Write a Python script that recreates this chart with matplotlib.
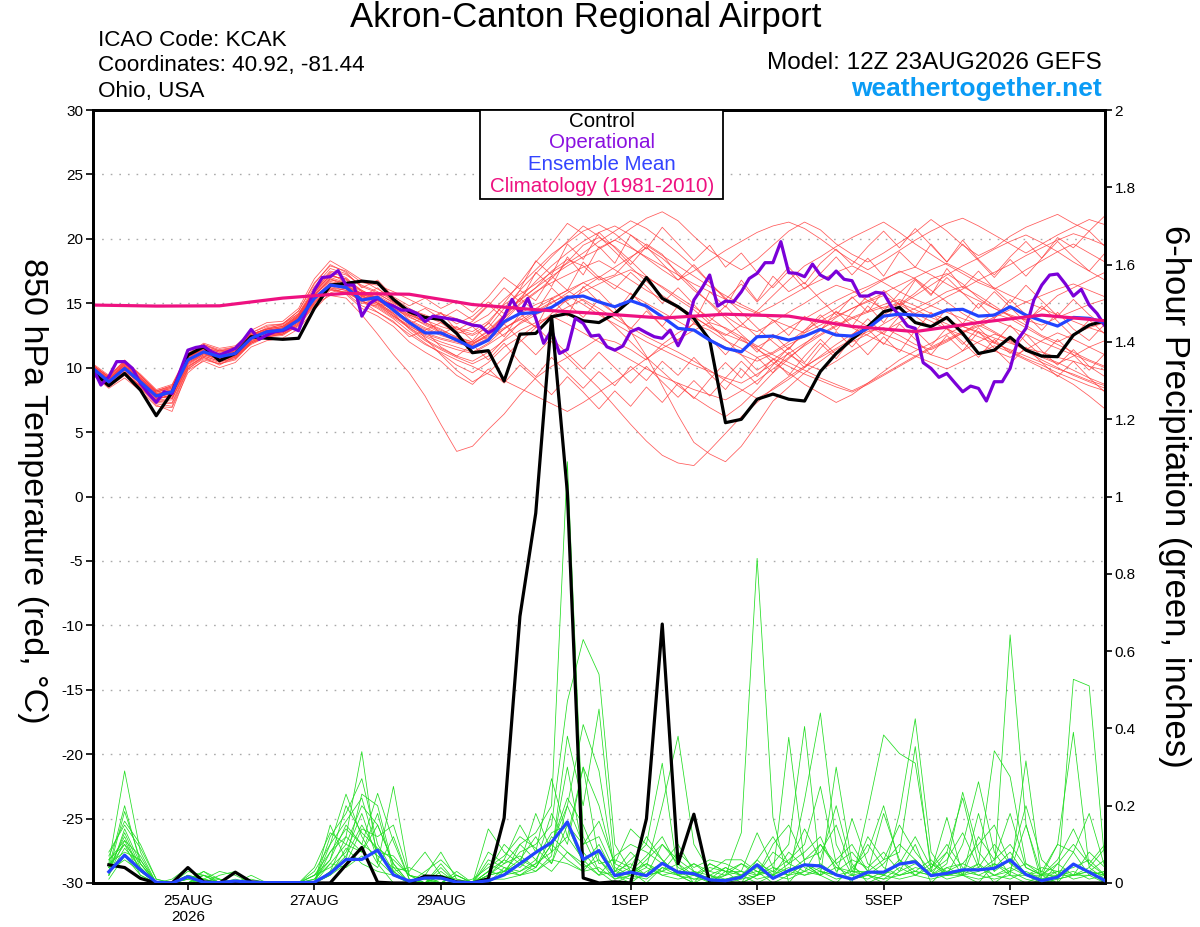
import numpy as np
import matplotlib
matplotlib.use("Agg")
import matplotlib.pyplot as plt
from matplotlib.patches import Rectangle

plt.rcParams['font.family'] = ['Liberation Sans', 'DejaVu Sans']

# ---------------- data (6-hourly steps from 12Z 23AUG2026) ----------------
tick_steps = [6, 14, 22, 34, 42, 50, 58]
tick_labels = ['25AUG\n2026', '27AUG', '29AUG', '1SEP', '3SEP', '5SEP', '7SEP']

control_temp = [9.68, 8.6, 9.55, 8.26, 6.27, 8.08, 10.98, 11.62, 10.54, 11.1, 12.4, 12.28, 12.2,
                12.28, 14.6, 16.41, 16.54, 16.72, 16.59, 15.3, 14.34, 13.9, 13.75, 12.66, 11.16,
                11.32, 8.96, 12.6, 12.66, 13.95, 14.2, 13.64, 13.5, 14.2, 15.25, 17.0, 15.38,
                14.73, 13.83, 12.14, 5.73, 5.99, 7.55, 7.95, 7.55, 7.41, 9.7, 11.1, 12.2,
                13.18, 14.34, 14.68, 13.5, 13.18, 13.9, 12.66, 11.1, 11.36, 12.36, 11.36, 10.9,
                10.85, 12.53, 13.3, 13.64]

mean_temp = [9.94, 8.9, 9.94, 8.9, 7.8, 8.13, 10.6, 11.23, 10.85, 11.1, 12.28, 12.79, 12.92,
             13.7, 15.38, 16.41, 16.23, 15.25, 15.46, 14.47, 13.5, 12.7, 12.7, 12.14, 11.55,
             12.14, 13.57, 14.2, 14.27, 14.68, 15.46, 15.56, 15.1, 14.73, 15.2, 14.78, 13.95,
             13.05, 12.92, 12.14, 11.5, 11.23, 12.4, 12.45, 12.14, 12.45, 12.97, 12.53, 12.45,
             13.05, 14.0, 14.16, 14.08, 14.0, 14.47, 14.53, 14.0, 14.08, 14.73, 14.08, 13.64,
             13.23, 13.9, 13.83, 13.5]

# operational run, 3-hourly
oper_temp = [9.94, 8.65, 9.3, 10.47, 10.47, 9.94, 8.78, 8.0, 7.31, 8.13, 8.0, 9.7, 11.36, 11.57,
             11.67, 11.23, 10.98, 11.23, 11.5, 12.14, 12.97, 12.2, 12.53, 12.79, 12.87, 13.13,
             12.87, 14.47, 16.02, 17.0, 17.06, 17.53, 16.41, 16.41, 14.0, 14.99, 15.38, 14.99,
             14.78, 14.47, 14.47, 14.2, 13.57, 14.0, 13.9, 13.8, 13.7, 13.5, 13.3, 13.23, 12.7,
             13.05, 13.95, 15.3, 14.2, 15.38, 13.83, 11.89, 12.92, 11.1, 11.42, 13.83, 13.44,
             12.45, 12.53, 11.62, 11.36, 11.67, 12.79, 13.05, 12.71, 12.4, 12.28, 12.92, 11.7,
             12.92, 15.25, 16.15, 17.19, 14.78, 15.17, 15.1, 15.89, 16.92, 17.32, 18.15, 18.15,
             19.78, 17.37, 17.32, 17.06, 18.04, 17.19, 16.86, 17.5, 16.86, 16.75, 15.56, 15.56,
             15.85, 15.77, 14.73, 14.08, 13.23, 13.05, 10.39, 9.94, 9.25, 9.55, 8.83, 8.13, 8.57,
             8.39, 7.41, 8.91, 8.91, 9.94, 12.2, 13.05, 15.25, 16.41, 17.19, 17.27, 16.49, 15.56,
             16.08, 14.86, 14.2, 13.23]

# climatology, daily
clim_temp = [14.86, 14.78, 14.8, 15.4, 15.77, 15.7, 14.9, 14.5, 14.2, 13.85, 14.15, 14.0,
             13.2, 12.8, 13.5, 14.08, 13.64]

member_temps = [
    [9.6, 9.0, 10.3, 9.2, 8.0, 7.6, 10.2, 11.0, 10.7, 11.4, 12.6, 13.0, 13.4, 14.2, 16.0, 17.4, 17.0, 15.9, 15.2, 14.6, 13.9, 13.4, 12.8, 12.2, 11.8, 12.6, 14.1, 15.3, 16.2, 17.5, 18.4, 17.9, 16.8, 17.2, 18.5, 19.6, 18.8, 17.2, 16.0, 15.1, 14.0, 13.2, 12.8, 13.5, 14.3, 15.0, 15.8, 16.4, 16.0, 15.2, 14.6, 14.9, 15.8, 16.9, 17.3, 16.5, 15.4, 14.6, 14.0, 13.7, 14.5, 15.6, 16.2, 16.8, 17.4],
    [9.8, 8.7, 9.6, 8.5, 7.2, 7.0, 9.9, 10.8, 10.2, 10.9, 11.8, 12.4, 12.6, 13.3, 14.9, 15.6, 15.4, 14.1, 12.6, 11.0, 9.6, 7.8, 5.6, 3.5, 3.9, 5.2, 6.4, 7.9, 9.2, 10.1, 10.8, 11.5, 12.3, 12.0, 11.4, 10.6, 11.8, 12.7, 13.4, 12.9, 12.1, 11.5, 10.8, 11.2, 12.0, 12.9, 13.6, 14.3, 13.9, 13.2, 12.6, 12.1, 11.5, 11.0, 10.6, 11.3, 12.0, 12.6, 12.2, 11.4, 10.8, 10.3, 10.9, 11.6, 12.1],
    [10.1, 9.3, 10.6, 9.4, 8.2, 8.6, 11.0, 11.8, 11.3, 11.6, 12.9, 13.5, 13.6, 14.6, 16.9, 18.3, 17.6, 16.8, 16.1, 15.4, 14.6, 14.0, 13.5, 13.0, 12.6, 13.4, 15.0, 16.6, 18.2, 19.6, 21.2, 20.4, 19.3, 19.9, 20.8, 21.6, 22.1, 21.4, 20.2, 19.1, 18.3, 17.6, 18.4, 19.5, 20.6, 21.3, 20.7, 19.6, 18.8, 18.2, 18.9, 19.7, 20.5, 21.5, 20.6, 19.5, 18.7, 19.3, 20.2, 20.9, 21.4, 21.9, 21.2, 20.6, 21.8],
    [9.7, 8.8, 9.8, 8.7, 7.5, 7.9, 10.4, 11.1, 10.6, 10.9, 12.0, 12.6, 12.8, 13.6, 15.3, 16.4, 16.1, 15.0, 14.8, 14.0, 13.3, 12.5, 12.0, 11.6, 11.2, 11.9, 13.0, 13.8, 13.2, 12.0, 10.8, 9.6, 8.4, 7.0, 5.6, 4.3, 3.2, 2.6, 2.4, 3.6, 4.9, 6.2, 7.3, 8.4, 9.3, 10.1, 10.8, 11.5, 12.2, 12.8, 13.1, 12.5, 11.8, 11.4, 12.0, 12.7, 13.5, 14.2, 13.8, 13.1, 12.4, 11.8, 11.2, 10.6, 10.1],
    [10.0, 9.1, 10.2, 9.0, 7.9, 8.3, 10.9, 11.4, 11.0, 11.3, 12.4, 12.9, 13.1, 13.9, 15.8, 17.2, 16.8, 15.6, 15.1, 14.2, 13.0, 12.1, 11.4, 10.8, 10.3, 10.9, 12.2, 13.5, 14.3, 15.0, 15.8, 16.6, 15.9, 14.6, 12.8, 10.9, 8.6, 6.3, 4.2, 3.3, 2.7, 3.9, 5.6, 7.4, 8.5, 9.6, 10.5, 11.4, 12.0, 12.6, 13.4, 14.1, 14.6, 15.2, 15.9, 16.3, 15.6, 14.8, 14.0, 13.3, 12.5, 12.0, 12.6, 13.1, 13.5],
    [9.5, 8.5, 9.4, 8.4, 7.1, 6.6, 9.8, 10.5, 10.0, 10.4, 11.6, 12.1, 12.3, 13.0, 14.5, 15.8, 16.2, 15.7, 15.3, 14.8, 14.1, 13.5, 13.0, 12.3, 11.7, 12.3, 13.6, 14.9, 15.8, 16.9, 18.2, 19.5, 20.1, 19.4, 18.3, 17.1, 16.2, 15.3, 14.5, 13.4, 12.2, 11.0, 9.8, 10.6, 11.5, 12.7, 13.9, 14.6, 15.4, 16.1, 16.8, 17.5, 16.9, 16.0, 15.1, 14.2, 13.5, 12.8, 12.1, 11.4, 10.9, 10.4, 9.8, 9.2, 8.7],
    [10.2, 9.2, 10.4, 9.3, 8.1, 8.4, 10.7, 11.5, 11.3, 11.5, 12.5, 13.1, 13.3, 14.2, 16.3, 17.7, 17.3, 16.3, 15.8, 15.0, 14.4, 13.7, 13.2, 12.8, 12.5, 13.1, 14.6, 16.0, 17.3, 18.6, 19.8, 21.0, 20.2, 19.0, 17.8, 16.7, 15.6, 14.8, 14.0, 13.1, 12.5, 13.3, 14.4, 15.6, 16.8, 17.9, 18.6, 19.4, 20.1, 20.7, 21.3, 20.5, 19.6, 18.8, 18.0, 17.3, 16.6, 16.1, 16.8, 17.6, 18.3, 19.0, 19.6, 18.9, 18.2],
    [9.9, 9.0, 10.0, 9.1, 8.0, 8.2, 10.5, 11.3, 10.8, 11.0, 12.2, 12.7, 12.9, 13.8, 15.5, 16.6, 16.3, 15.4, 15.6, 14.9, 13.7, 12.3, 11.0, 9.8, 8.9, 9.6, 10.8, 12.0, 13.1, 14.2, 15.3, 16.2, 17.0, 17.8, 18.6, 19.3, 18.5, 17.4, 16.2, 15.0, 13.8, 12.6, 11.5, 10.4, 9.6, 8.7, 8.0, 7.3, 7.9, 8.8, 9.7, 10.6, 11.3, 11.9, 12.6, 13.2, 12.7, 12.0, 11.3, 10.7, 10.2, 9.6, 9.1, 8.6, 8.2],
    [9.4, 8.4, 9.2, 8.2, 7.0, 6.9, 9.6, 10.6, 10.3, 10.6, 11.9, 12.5, 12.6, 13.2, 14.8, 16.0, 15.9, 15.2, 14.6, 13.8, 12.8, 11.9, 11.1, 10.2, 9.6, 10.4, 11.6, 12.4, 13.3, 14.0, 14.7, 15.3, 14.6, 13.8, 13.1, 12.4, 11.8, 11.2, 10.5, 9.8, 9.0, 8.3, 7.6, 8.3, 9.1, 10.0, 10.9, 11.8, 12.6, 13.3, 14.1, 14.8, 15.6, 16.4, 17.2, 17.9, 18.5, 19.2, 19.8, 20.3, 19.7, 19.0, 18.2, 17.5, 16.8],
    [10.0, 9.0, 10.1, 8.9, 7.7, 8.0, 10.6, 11.2, 10.9, 11.2, 12.3, 12.8, 13.0, 13.9, 15.6, 16.8, 16.6, 15.9, 15.7, 15.1, 14.5, 14.1, 13.6, 13.1, 12.8, 13.6, 14.9, 15.7, 16.5, 17.4, 18.1, 18.9, 19.8, 20.6, 21.4, 20.8, 19.9, 18.9, 17.8, 16.6, 15.4, 14.3, 13.1, 12.0, 11.0, 10.3, 9.8, 10.5, 11.3, 12.0, 12.8, 13.5, 14.2, 14.8, 15.5, 16.1, 16.8, 17.4, 18.0, 18.7, 19.3, 19.9, 20.4, 20.0, 19.5],
    [9.8, 8.8, 9.7, 8.8, 7.6, 7.8, 10.3, 11.0, 10.6, 10.8, 12.1, 12.6, 12.7, 13.5, 15.1, 16.2, 16.0, 15.1, 14.9, 14.2, 13.4, 12.7, 12.3, 12.0, 11.8, 12.5, 13.4, 14.2, 14.9, 15.4, 16.0, 15.2, 14.3, 13.2, 12.0, 10.8, 9.7, 8.6, 7.7, 6.9, 6.2, 7.1, 8.3, 9.6, 10.7, 11.8, 12.9, 13.9, 14.6, 15.1, 15.6, 14.9, 14.2, 13.6, 13.0, 12.5, 11.9, 11.3, 10.8, 11.4, 12.1, 12.7, 12.2, 11.6, 11.0],
    [10.3, 9.4, 10.5, 9.5, 8.3, 8.7, 11.1, 11.9, 11.5, 11.7, 12.7, 13.2, 13.4, 14.4, 16.6, 17.9, 17.5, 16.6, 16.4, 15.9, 15.3, 14.7, 14.2, 13.8, 13.4, 14.1, 15.3, 16.4, 17.6, 18.8, 19.7, 20.6, 21.1, 20.4, 19.4, 18.5, 17.6, 16.8, 17.5, 18.3, 19.1, 19.8, 20.5, 21.0, 21.3, 20.8, 20.0, 19.1, 18.3, 17.6, 18.3, 19.1, 19.9, 20.6, 21.2, 21.6, 21.0, 20.3, 19.6, 18.9, 19.6, 20.3, 20.9, 21.5, 21.1],
    [9.6, 8.6, 9.5, 8.6, 7.4, 7.3, 10.0, 10.9, 10.5, 10.7, 11.9, 12.4, 12.5, 13.3, 15.0, 16.1, 15.8, 14.8, 14.3, 13.5, 12.6, 11.8, 11.2, 10.6, 10.1, 9.5, 9.0, 8.4, 7.8, 7.2, 6.6, 7.3, 8.1, 8.9, 9.8, 10.7, 11.5, 12.2, 12.9, 13.5, 13.1, 12.4, 11.7, 11.0, 10.4, 9.8, 9.2, 8.7, 8.2, 8.8, 9.5, 10.2, 10.9, 11.6, 12.2, 12.8, 13.3, 12.7, 12.0, 11.3, 10.6, 10.0, 9.4, 8.9, 8.4],
    [10.1, 9.1, 10.3, 9.2, 8.1, 8.5, 10.8, 11.6, 11.2, 11.4, 12.6, 13.0, 13.2, 14.0, 15.9, 17.1, 16.9, 16.0, 15.3, 14.5, 13.6, 13.0, 12.5, 12.1, 11.9, 12.6, 13.8, 15.0, 15.9, 16.6, 17.2, 17.8, 18.3, 17.6, 16.8, 16.0, 15.3, 14.6, 13.9, 13.2, 12.6, 12.1, 11.6, 12.3, 13.1, 13.8, 14.5, 15.2, 15.8, 16.3, 16.9, 17.4, 17.8, 17.2, 16.5, 15.8, 15.2, 14.6, 14.1, 13.7, 13.3, 13.9, 14.4, 14.9, 15.3],
    [9.7, 8.7, 9.9, 8.8, 7.7, 7.7, 10.3, 11.1, 10.7, 11.0, 12.2, 12.7, 12.9, 13.7, 15.4, 16.5, 16.4, 15.5, 15.2, 14.4, 13.7, 13.1, 12.6, 12.2, 11.9, 12.4, 13.1, 13.7, 14.4, 15.1, 15.6, 14.9, 14.1, 13.4, 12.7, 12.0, 11.4, 10.8, 10.2, 9.7, 9.2, 8.8, 9.5, 10.3, 11.1, 11.9, 12.6, 13.3, 13.9, 14.4, 14.9, 15.3, 14.8, 14.2, 13.7, 13.2, 12.8, 12.3, 11.9, 11.5, 11.2, 10.8, 10.5, 10.1, 9.8],
    [9.9, 8.9, 10.0, 9.0, 7.9, 8.1, 10.6, 11.3, 10.9, 11.2, 12.4, 12.9, 13.1, 14.0, 15.7, 16.9, 16.5, 15.6, 15.0, 14.1, 13.1, 12.4, 11.8, 11.4, 11.1, 11.8, 12.6, 13.4, 14.1, 14.7, 15.2, 15.9, 16.5, 17.1, 17.6, 17.0, 16.3, 15.5, 14.7, 13.9, 13.0, 12.2, 11.4, 10.7, 10.1, 9.5, 9.0, 8.5, 8.1, 8.7, 9.4, 10.1, 10.8, 11.5, 12.1, 12.7, 13.2, 13.7, 13.2, 12.6, 12.0, 11.5, 11.0, 10.5, 10.0],
    [10.2, 9.3, 10.4, 9.4, 8.2, 8.5, 10.9, 11.7, 11.3, 11.4, 12.6, 13.0, 13.2, 14.1, 16.1, 17.5, 17.2, 16.4, 15.9, 15.2, 14.3, 13.5, 12.9, 12.4, 12.0, 12.9, 14.1, 15.2, 16.2, 17.1, 17.9, 18.6, 19.2, 19.9, 19.3, 18.6, 17.9, 17.2, 16.5, 15.9, 15.3, 14.7, 14.2, 14.8, 15.5, 16.2, 16.8, 17.4, 17.9, 17.3, 16.6, 15.9, 15.3, 14.8, 14.3, 13.8, 13.4, 13.9, 14.5, 15.1, 15.6, 16.1, 16.5, 16.0, 15.5],
    [9.5, 8.6, 9.6, 8.6, 7.4, 7.5, 10.1, 10.8, 10.4, 10.8, 12.0, 12.5, 12.7, 13.4, 15.2, 16.3, 16.0, 15.2, 14.7, 13.9, 13.1, 12.2, 11.5, 10.9, 10.5, 11.2, 12.1, 12.9, 13.5, 14.0, 13.4, 12.7, 12.0, 11.3, 10.6, 9.9, 9.3, 8.8, 8.3, 7.9, 7.5, 8.2, 9.0, 9.9, 10.8, 11.7, 12.5, 13.2, 13.8, 14.3, 14.7, 15.0, 14.5, 13.9, 13.4, 12.9, 12.4, 11.9, 11.4, 10.9, 10.4, 9.9, 9.5, 9.0, 8.6],
    [10.0, 9.1, 10.1, 9.1, 7.9, 8.2, 10.7, 11.4, 11.0, 11.3, 12.4, 12.9, 13.0, 13.9, 15.7, 16.7, 16.4, 15.6, 15.5, 14.8, 14.0, 13.3, 12.7, 12.3, 12.0, 12.8, 14.0, 15.4, 16.7, 17.9, 18.9, 19.8, 20.5, 21.0, 20.3, 19.5, 18.7, 17.9, 17.1, 16.3, 15.6, 14.9, 14.3, 13.7, 13.2, 12.7, 13.3, 14.0, 14.6, 15.2, 15.8, 16.4, 17.0, 17.6, 18.1, 17.5, 16.8, 16.2, 15.6, 15.1, 14.6, 14.1, 13.6, 13.1, 12.7],
    [9.8, 8.8, 9.8, 8.8, 7.6, 7.9, 10.4, 11.1, 10.7, 11.0, 12.1, 12.6, 12.8, 13.6, 15.3, 16.4, 16.2, 15.3, 14.9, 14.0, 13.2, 12.6, 12.2, 11.9, 11.6, 12.2, 13.0, 13.9, 14.6, 15.3, 16.0, 16.6, 17.1, 16.4, 15.7, 15.0, 14.3, 13.6, 12.9, 12.2, 11.6, 11.0, 10.5, 11.1, 11.8, 12.4, 13.0, 13.6, 13.1, 12.5, 11.9, 11.4, 10.9, 10.4, 9.9, 10.5, 11.1, 11.7, 11.2, 10.6, 10.0, 9.4, 8.7, 7.8, 6.8],
    [9.9, 8.9, 10.1, 9.0, 7.8, 8.0, 10.5, 11.2, 10.8, 11.1, 12.3, 12.8, 13.0, 13.8, 15.6, 16.9, 16.3, 15.8, 15.0, 14.6, 13.4, 13.9, 12.6, 13.2, 12.1, 13.5, 12.4, 14.2, 13.1, 15.4, 14.0, 16.3, 15.1, 14.2, 15.8, 14.6, 13.2, 14.8, 13.5, 15.9, 14.7, 16.8, 15.2, 17.1, 15.9, 16.6, 15.3, 14.1, 15.5, 14.3, 16.0, 14.9, 16.8, 15.6, 17.7, 16.2, 17.5, 16.1, 15.0, 16.4, 15.2, 14.0, 15.3, 14.1, 13.2],
    [10.0, 9.2, 10.2, 9.1, 8.0, 8.3, 10.8, 11.4, 11.1, 11.2, 12.5, 12.9, 13.1, 14.0, 16.0, 17.1, 16.9, 15.5, 16.2, 15.1, 14.2, 13.6, 14.3, 12.9, 13.6, 14.8, 16.2, 15.1, 17.4, 16.3, 18.6, 17.2, 19.4, 18.1, 20.3, 19.2, 20.9, 19.6, 18.3, 19.5, 17.8, 18.9, 17.4, 16.2, 17.5, 16.1, 17.3, 18.6, 17.2, 18.5, 17.1, 19.0, 17.8, 19.6, 18.2, 19.9, 18.4, 17.2, 18.6, 19.8, 18.5, 20.1, 19.3, 20.6, 19.4],
    [9.7, 8.7, 9.6, 8.6, 7.5, 7.6, 10.1, 10.9, 10.5, 10.9, 12.0, 12.5, 12.7, 13.5, 15.1, 16.2, 15.8, 15.2, 14.3, 13.6, 12.4, 12.9, 11.6, 10.9, 11.8, 10.6, 11.9, 10.4, 9.3, 10.8, 9.6, 8.4, 9.7, 8.6, 10.1, 9.0, 10.5, 9.4, 10.8, 9.5, 8.3, 9.9, 8.7, 10.2, 11.6, 10.4, 11.9, 10.7, 12.3, 11.0, 12.4, 11.2, 12.9, 11.7, 13.1, 12.0, 10.8, 12.2, 11.1, 12.6, 11.3, 10.2, 11.4, 10.1, 9.3],
    [10.1, 9.1, 10.3, 9.2, 8.1, 8.4, 10.8, 11.5, 11.2, 11.4, 12.5, 13.0, 13.2, 14.1, 16.0, 17.3, 16.6, 16.0, 15.4, 14.9, 14.1, 13.6, 14.2, 13.4, 14.0, 15.1, 14.2, 16.0, 15.2, 17.1, 16.0, 18.2, 17.0, 16.1, 17.4, 16.3, 15.0, 16.2, 14.9, 13.6, 14.8, 13.5, 12.4, 13.7, 12.5, 14.0, 12.9, 14.4, 13.2, 14.8, 13.5, 15.2, 14.0, 13.1, 14.6, 13.4, 15.0, 13.8, 15.3, 14.1, 12.9, 14.3, 13.0, 12.1, 13.4],
    [9.6, 8.6, 9.5, 8.5, 7.3, 7.2, 9.9, 10.7, 10.3, 10.7, 11.9, 12.4, 12.6, 13.4, 15.0, 16.1, 15.7, 14.6, 14.0, 13.2, 12.0, 11.2, 10.5, 9.4, 8.7, 9.9, 8.8, 10.2, 9.1, 7.9, 9.3, 8.1, 6.8, 8.2, 7.0, 8.5, 7.3, 8.8, 7.6, 9.1, 10.4, 9.2, 10.8, 9.6, 11.2, 10.0, 11.5, 12.8, 11.6, 13.0, 11.8, 13.4, 12.2, 11.0, 12.5, 11.3, 12.8, 11.5, 10.3, 11.6, 10.4, 9.3, 10.5, 9.2, 8.1],
    [10.2, 9.3, 10.5, 9.4, 8.2, 8.6, 11.0, 11.8, 11.4, 11.6, 12.7, 13.3, 13.4, 14.4, 16.5, 18.0, 17.4, 16.2, 16.8, 15.5, 14.8, 15.4, 14.6, 15.2, 14.3, 15.5, 17.0, 16.1, 18.3, 17.2, 19.6, 18.4, 20.5, 19.3, 18.0, 19.4, 18.1, 16.8, 18.0, 16.6, 15.3, 16.5, 15.1, 16.4, 17.8, 16.5, 18.1, 19.2, 18.0, 19.4, 20.6, 19.3, 20.8, 19.5, 18.2, 19.6, 18.3, 17.0, 18.4, 17.1, 18.5, 19.8, 18.6, 17.5, 18.9],
    [9.8, 8.9, 9.9, 8.9, 7.7, 8.0, 10.5, 11.2, 10.8, 11.0, 12.2, 12.7, 12.9, 13.7, 15.4, 16.5, 16.2, 15.4, 15.0, 14.3, 13.5, 12.9, 13.5, 12.6, 13.2, 12.1, 13.4, 12.2, 11.0, 12.3, 11.1, 9.9, 11.2, 10.0, 8.8, 10.1, 8.9, 7.7, 9.0, 7.8, 9.2, 10.5, 9.3, 10.7, 9.4, 10.9, 12.2, 11.0, 12.5, 13.8, 12.6, 14.0, 12.8, 14.3, 13.0, 11.8, 13.1, 11.9, 13.3, 12.0, 10.9, 12.2, 11.0, 9.8, 11.1],
    [10.0, 9.0, 10.1, 9.0, 7.8, 8.1, 10.6, 11.3, 10.9, 11.2, 12.4, 12.8, 13.0, 13.9, 15.8, 17.0, 16.6, 15.7, 15.5, 14.6, 14.0, 14.6, 13.8, 14.5, 13.7, 14.9, 13.8, 15.4, 14.3, 16.2, 15.0, 13.9, 15.3, 14.2, 13.0, 14.4, 13.2, 12.1, 13.5, 12.3, 11.0, 12.4, 11.2, 12.6, 11.4, 12.9, 14.1, 12.9, 14.3, 15.6, 14.4, 15.8, 16.9, 15.7, 17.0, 15.8, 14.6, 15.9, 14.7, 13.5, 14.8, 13.6, 12.4, 13.7, 12.6],
]

# 6-hour precipitation (inches), valid at steps 1..64
control_precip = [0.047, 0.04, 0.012, 0, 0, 0.04, 0.003, 0, 0.028, 0.003, 0, 0, 0, 0, 0, 0.047,
                  0.092, 0.002, 0, 0, 0.018, 0.016, 0.003, 0, 0.011, 0.168, 0.69, 0.957, 1.466, 1.01,
                  0.013, 0, 0.003, 0, 0.166, 0.67, 0.05, 0.178, 0, 0, 0, 0, 0, 0, 0, 0, 0, 0,
                  0, 0, 0, 0, 0, 0, 0, 0, 0, 0, 0, 0, 0, 0, 0, 0]
mean_precip = [0.029, 0.072, 0.034, 0.002, 0, 0.016, 0.002, 0.001, 0.005, 0.002, 0.001, 0.001,
               0.001, 0.002, 0.025, 0.061, 0.061, 0.085, 0.021, 0.005, 0.013, 0.013, 0.002, 0.001,
               0.006, 0.021, 0.05, 0.079, 0.105, 0.158, 0.061, 0.084, 0.019, 0.028, 0.019, 0.051,
               0.028, 0.024, 0.008, 0.006, 0.015, 0.047, 0.012, 0.032, 0.047, 0.044, 0.021, 0.01,
               0.028, 0.028, 0.049, 0.055, 0.019, 0.025, 0.034, 0.034, 0.038, 0.06, 0.022, 0.006,
               0.015, 0.049, 0.028, 0.006]

member_precips = [
    [0.05, 0.29, 0.08, 0, 0, 0.02, 0.01, 0, 0, 0, 0, 0, 0, 0, 0.08, 0.12, 0.34, 0.05, 0, 0, 0, 0.03, 0, 0, 0.02, 0.05, 0.1, 0.13, 0.2, 1.09, 0.12, 0.03, 0, 0.02, 0.06, 0.1, 0.05, 0, 0, 0.02, 0.13, 0.84, 0.17, 0, 0.05, 0.02, 0, 0.04, 0.02, 0, 0.03, 0.1, 0, 0.04, 0.02, 0, 0.05, 0.02, 0, 0.02, 0.1, 0.08, 0.02, 0],
    [0.03, 0.185, 0.06, 0, 0, 0.01, 0.03, 0, 0, 0, 0, 0, 0, 0.03, 0.1, 0.23, 0.12, 0.05, 0.25, 0.02, 0, 0, 0.02, 0, 0.05, 0.03, 0.08, 0.1, 0.15, 0.47, 0.63, 0.54, 0.1, 0.03, 0, 0.04, 0.02, 0, 0.05, 0.03, 0, 0.06, 0.02, 0.377, 0.05, 0.02, 0.3, 0.05, 0, 0.02, 0.05, 0.06, 0.02, 0.08, 0.22, 0.05, 0, 0.03, 0.15, 0.02, 0, 0.527, 0.51, 0.05],
    [0.07, 0.16, 0.1, 0.01, 0, 0, 0.02, 0.01, 0, 0, 0, 0, 0, 0, 0.15, 0.06, 0.23, 0.2, 0.04, 0.03, 0.08, 0.02, 0, 0, 0.14, 0.08, 0.05, 0.03, 0.07, 0.38, 0.2, 0.45, 0.05, 0.14, 0.1, 0.31, 0.02, 0.05, 0.02, 0, 0, 0.02, 0.05, 0.1, 0.405, 0.03, 0.02, 0.167, 0.05, 0.02, 0.18, 0.425, 0.08, 0.02, 0.02, 0.18, 0.03, 0.642, 0.153, 0, 0.02, 0.02, 0.03, 0],
    [0.02, 0.14, 0.05, 0, 0.01, 0.04, 0, 0, 0.01, 0, 0, 0, 0, 0.02, 0.06, 0.15, 0.1, 0.232, 0.107, 0.01, 0, 0.05, 0, 0, 0.03, 0.1, 0.06, 0.12, 0.05, 0.2, 0.41, 0.29, 0.03, 0.08, 0.04, 0.2, 0.38, 0.1, 0.03, 0.06, 0.06, 0.03, 0, 0.02, 0.215, 0.44, 0.1, 0.02, 0.03, 0.06, 0.08, 0.353, 0.03, 0.17, 0.02, 0.05, 0.342, 0.275, 0.05, 0.03, 0.1, 0.39, 0.04, 0.09],
    [0.04, 0.12, 0.03, 0, 0, 0, 0.02, 0, 0, 0, 0, 0, 0, 0.01, 0.05, 0.1, 0.2, 0.15, 0.05, 0, 0.02, 0.08, 0.01, 0, 0.03, 0.02, 0.1, 0.06, 0.13, 0.15, 0.05, 0.1, 0.02, 0, 0.03, 0.05, 0.1, 0.03, 0, 0.01, 0.02, 0.05, 0.03, 0.06, 0.1, 0.25, 0.05, 0, 0.187, 0.383, 0.335, 0.31, 0.05, 0.02, 0.1, 0.262, 0.08, 0.02, 0.316, 0.01, 0, 0.05, 0.03, 0.02],
    [0.06, 0.11, 0.07, 0, 0, 0, 0, 0.02, 0.03, 0, 0, 0, 0, 0, 0.12, 0.18, 0.27, 0.1, 0.03, 0.04, 0.02, 0, 0, 0, 0.02, 0.06, 0.04, 0.08, 0.1, 0.22, 0.15, 0.05, 0.06, 0.04, 0.02, 0.03, 0.05, 0.02, 0.04, 0.03, 0.03, 0.02, 0.08, 0.05, 0.03, 0.1, 0.05, 0.08, 0.03, 0.18, 0.06, 0.03, 0.02, 0.05, 0.235, 0.08, 0.03, 0.06, 0.02, 0.02, 0.05, 0.1, 0.05, 0.02],
    [0.02, 0.09, 0.04, 0, 0, 0.03, 0.02, 0, 0, 0.02, 0, 0, 0, 0.02, 0.04, 0.08, 0.18, 0.06, 0.02, 0, 0, 0, 0.02, 0, 0.02, 0.03, 0.05, 0.18, 0.08, 0.3, 0.08, 0.03, 0.02, 0.06, 0.1, 0.06, 0.02, 0, 0.02, 0, 0, 0.02, 0.04, 0.03, 0.06, 0.08, 0.15, 0.03, 0.02, 0.05, 0.1, 0.06, 0.02, 0.03, 0.05, 0.1, 0.15, 0.05, 0.02, 0, 0.05, 0.02, 0.08, 0.04],
    [0.08, 0.15, 0.09, 0.01, 0, 0, 0.01, 0.03, 0.02, 0, 0, 0, 0, 0, 0.02, 0.05, 0.14, 0.12, 0.15, 0.02, 0, 0.04, 0, 0, 0.06, 0.04, 0.03, 0.05, 0.18, 0.1, 0.3, 0.2, 0.04, 0.02, 0.05, 0.03, 0.08, 0.04, 0.06, 0.05, 0.03, 0.13, 0.04, 0.02, 0.03, 0.05, 0.02, 0.03, 0.1, 0.04, 0.02, 0.03, 0.06, 0.02, 0.03, 0.05, 0.02, 0.03, 0.05, 0.02, 0.03, 0.04, 0.06, 0.02],
    [0.01, 0.07, 0.02, 0, 0, 0.02, 0, 0, 0, 0, 0, 0, 0, 0, 0.03, 0.07, 0.15, 0.08, 0.07, 0.02, 0.01, 0, 0, 0.01, 0.04, 0.07, 0.12, 0.09, 0.05, 0.15, 0.1, 0.12, 0.03, 0.05, 0.02, 0.1, 0.06, 0.03, 0.02, 0.04, 0.02, 0, 0.02, 0.05, 0.08, 0.12, 0.03, 0.06, 0.04, 0.08, 0.03, 0.05, 0.02, 0.04, 0.05, 0.03, 0.06, 0.1, 0.04, 0.02, 0.02, 0.05, 0.03, 0.06],
    [0.04, 0.1, 0.05, 0, 0, 0, 0.03, 0.01, 0, 0, 0, 0, 0, 0.04, 0.13, 0.1, 0.08, 0.18, 0.03, 0, 0.03, 0.06, 0.02, 0, 0.08, 0.05, 0.07, 0.04, 0.12, 0.08, 0.05, 0.02, 0.07, 0.1, 0.08, 0.05, 0.03, 0.05, 0.03, 0.02, 0.05, 0.03, 0.02, 0.08, 0.04, 0.02, 0.06, 0.1, 0.03, 0.02, 0.06, 0.02, 0.04, 0.1, 0.04, 0.02, 0.04, 0.08, 0.02, 0.04, 0.03, 0.02, 0.02, 0.03],
    [0.03, 0.13, 0.04, 0, 0, 0.01, 0, 0, 0, 0.01, 0, 0, 0, 0, 0.02, 0.09, 0.05, 0.03, 0.02, 0, 0, 0.02, 0, 0, 0.01, 0.02, 0.03, 0.06, 0.03, 0.08, 0.04, 0.06, 0.01, 0.03, 0.05, 0.02, 0.01, 0.02, 0.05, 0.03, 0.02, 0.04, 0.01, 0.03, 0.02, 0.04, 0.02, 0.01, 0.02, 0.01, 0.04, 0.02, 0.01, 0.02, 0.03, 0.04, 0.02, 0.01, 0.03, 0.01, 0.02, 0.03, 0.01, 0.02],
    [0.05, 0.08, 0.06, 0, 0, 0, 0.01, 0, 0, 0, 0, 0, 0, 0, 0.05, 0.04, 0.07, 0.04, 0.12, 0.01, 0, 0, 0.03, 0, 0, 0.04, 0.02, 0.03, 0.06, 0.05, 0.03, 0.08, 0.02, 0.01, 0.02, 0.03, 0.02, 0.01, 0.01, 0, 0.01, 0.02, 0.03, 0.02, 0.05, 0.03, 0.01, 0.02, 0.01, 0.03, 0.02, 0.04, 0.03, 0.01, 0.02, 0.03, 0.05, 0.03, 0.01, 0, 0.01, 0.02, 0.04, 0.01],
    [0.02, 0.11, 0.03, 0, 0, 0.02, 0.01, 0, 0, 0, 0, 0, 0, 0.02, 0.08, 0.14, 0.1, 0.07, 0.04, 0, 0, 0.01, 0, 0, 0.02, 0.03, 0.02, 0.04, 0.1, 0.06, 0.03, 0.04, 0.01, 0.02, 0.01, 0.04, 0.03, 0.02, 0.01, 0.02, 0.03, 0.01, 0.02, 0.04, 0.02, 0.03, 0.02, 0.01, 0.02, 0.01, 0.02, 0.03, 0.02, 0.02, 0.03, 0.02, 0.01, 0.02, 0.02, 0.01, 0.03, 0.01, 0.02, 0.03],
    [0.06, 0.1, 0.02, 0, 0, 0, 0, 0, 0, 0, 0, 0, 0, 0.01, 0.06, 0.2, 0.13, 0.09, 0.06, 0.02, 0.01, 0, 0, 0, 0.01, 0.01, 0.02, 0.05, 0.08, 0.12, 0.06, 0.02, 0.03, 0.02, 0.04, 0.02, 0.03, 0.01, 0.02, 0.01, 0.02, 0.03, 0.02, 0.01, 0.03, 0.02, 0.04, 0.03, 0.03, 0.02, 0.01, 0.02, 0.05, 0.03, 0.02, 0.01, 0.02, 0.04, 0.02, 0.03, 0.01, 0.02, 0.03, 0.02],
    [0.04, 0.2, 0.05, 0, 0, 0.01, 0.02, 0, 0, 0, 0, 0, 0, 0, 0.1, 0.16, 0.22, 0.08, 0.03, 0, 0, 0.02, 0, 0, 0.03, 0.06, 0.15, 0.08, 0.27, 0.12, 0.3, 0.06, 0.02, 0.04, 0.12, 0.06, 0.02, 0.03, 0.01, 0.04, 0.02, 0.06, 0.12, 0.05, 0.14, 0.06, 0.2, 0.04, 0.08, 0.2, 0.05, 0.12, 0.04, 0.08, 0.02, 0.12, 0.06, 0.18, 0.04, 0.02, 0.06, 0.14, 0.05, 0.1],
    [0.03, 0.06, 0.03, 0, 0, 0, 0, 0.01, 0, 0, 0, 0, 0, 0, 0.03, 0.12, 0.08, 0.15, 0.05, 0, 0, 0.02, 0.01, 0, 0, 0.03, 0.06, 0.04, 0.1, 0.2, 0.1, 0.16, 0.05, 0.03, 0.07, 0.12, 0.04, 0.02, 0, 0.03, 0.05, 0.02, 0.1, 0.15, 0.06, 0.1, 0.04, 0.02, 0.12, 0.06, 0.15, 0.08, 0.03, 0.06, 0.13, 0.04, 0.1, 0.05, 0.2, 0.06, 0.02, 0.08, 0.18, 0.04],
]

# ---------------- figure ----------------
W, H = 1200, 927
fig = plt.figure(figsize=(W / 100, H / 100), dpi=100)
L, R, T, B = 93, 1105, 110, 883
ax = fig.add_axes([L / W, 1 - B / H, (R - L) / W, (B - T) / H])
ax2 = ax.twinx()

c_red = '#FF3B3B'
c_green = '#22DD22'
c_black = '#000000'
c_purple = '#7A00D8'
c_blue = '#2244FF'
c_pink = '#EE1180'

for m in member_temps:
    ax.plot(np.arange(len(m)), m, color=c_red, lw=0.55, alpha=0.85, zorder=2)

ax.plot(np.arange(0, len(clim_temp) * 4, 4), clim_temp, color=c_pink, lw=2.3, zorder=5)
ax.plot(np.arange(len(control_temp)), control_temp, color=c_black, lw=2.3, zorder=4)
ax.plot(np.arange(len(oper_temp)) * 0.5, oper_temp, color=c_purple, lw=2.3, zorder=4)
ax.plot(np.arange(len(mean_temp)), mean_temp, color=c_blue, lw=2.3, zorder=4)

for p in member_precips:
    ax2.plot(np.arange(1, len(p) + 1), p, color=c_green, lw=0.55, zorder=2)
ax2.plot(np.arange(1, len(control_precip) + 1), control_precip, color=c_black, lw=2.3, zorder=4)
ax2.plot(np.arange(1, len(mean_precip) + 1), mean_precip, color=c_blue, lw=2.3, zorder=5)

ax.set_xlim(0, 64)
ax.set_ylim(-30, 30)
ax2.set_ylim(0, 2)

ax.set_yticks(np.arange(-30, 31, 5))
ax.set_yticklabels([str(v) for v in range(-30, 31, 5)])
ax2.set_yticks(np.arange(0, 2.01, 0.2))
ax2.set_yticklabels(['0', '0.2', '0.4', '0.6', '0.8', '1', '1.2', '1.4', '1.6', '1.8', '2'])
ax.set_xticks(tick_steps)
ax.set_xticklabels(tick_labels, linespacing=1.2)

for v in range(-25, 30, 5):
    ax.axhline(v, color='#AAAAAA', lw=1.0, ls=(0, (1.2, 5)), zorder=1)

for a in (ax, ax2):
    for s in a.spines.values():
        s.set_linewidth(2.0)
        s.set_color('black')
ax.tick_params(axis='both', direction='out', length=5, width=1.2, labelsize=11, pad=2)
ax2.tick_params(axis='y', direction='out', length=5, width=1.2, labelsize=11, pad=2)
ax.tick_params(axis='x', pad=3)

# legend box
ax_w = R - L
ax_h = B - T
bx0, bx1, by1 = 480, 723, 199
ax2.add_patch(Rectangle(((bx0 - L) / ax_w, (B - by1) / ax_h), (bx1 - bx0) / ax_w, (by1 - T) / ax_h,
                        transform=ax2.transAxes, facecolor='white', edgecolor='black', lw=1.3,
                        zorder=10, clip_on=False))
leg_items = [('Control', '#000000', 121), ('Operational', '#8A10E0', 142),
             ('Ensemble Mean', '#3344FF', 164), ('Climatology (1981-2010)', '#EE1180', 186)]
for txt, col, yy in leg_items:
    ax2.text((602 - L) / ax_w, (B - yy) / ax_h, txt, color=col, fontsize=14.8,
             ha='center', va='center', transform=ax2.transAxes, zorder=11)

# header
fig.text(586 / W, 1 - 18 / H, 'Akron-Canton Regional Airport', fontsize=25, ha='center', va='center')
fig.text(98 / W, 1 - 40 / H, 'ICAO Code: KCAK', fontsize=16.2, ha='left', va='center')
fig.text(98 / W, 1 - 66 / H, 'Coordinates: 40.92, -81.44', fontsize=16.2, ha='left', va='center')
fig.text(98 / W, 1 - 92 / H, 'Ohio, USA', fontsize=16.2, ha='left', va='center')
fig.text(1102 / W, 1 - 63 / H, 'Model: 12Z 23AUG2026 GEFS', fontsize=17.5, ha='right', va='center')
fig.text(1102 / W, 1 - 89 / H, 'weathertogether.net', fontsize=19, ha='right', va='center',
         color='#0A9BF5', fontweight='bold')

fig.text(32 / W, 1 - 491 / H, '850 hPa Temperature (red, \u00b0C)', fontsize=24.5,
         rotation=-90, ha='center', va='center')
fig.text(1174 / W, 1 - 496 / H, '6-hour Precipitation (green, inches)', fontsize=25,
         rotation=-90, ha='center', va='center')

fig.savefig('out.png', dpi=100)
